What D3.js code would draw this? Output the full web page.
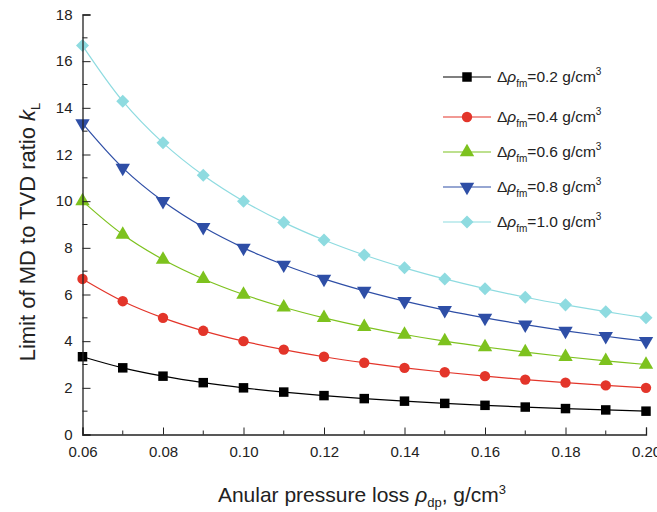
<!DOCTYPE html>
<html><head><meta charset="utf-8">
<script src="https://cdn.jsdelivr.net/npm/d3@7"></script>
<style>body{margin:0;background:#fff}svg{display:block}</style>
</head><body><svg id="c" width="657" height="512"></svg>
<script>
const pressureLoss = [0.06,0.07,0.08,0.09,0.10,0.11,0.12,0.13,0.14,0.15,0.16,0.17,0.18,0.19,0.20];
const seriesLabels = ["0.2","0.4","0.6","0.8","1.0"];
const k02 = [3.333,2.857,2.5,2.222,2.0,1.818,1.667,1.538,1.429,1.333,1.25,1.176,1.111,1.053,1.0];
const k04 = [6.667,5.714,5.0,4.444,4.0,3.636,3.333,3.077,2.857,2.667,2.5,2.353,2.222,2.105,2.0];
const k06 = [10.0,8.571,7.5,6.667,6.0,5.455,5.0,4.615,4.286,4.0,3.75,3.529,3.333,3.158,3.0];
const k08 = [13.333,11.429,10.0,8.889,8.0,7.273,6.667,6.154,5.714,5.333,5.0,4.706,4.444,4.211,4.0];
const k10 = [16.667,14.286,12.5,11.111,10.0,9.091,8.333,7.692,7.143,6.667,6.25,5.882,5.556,5.263,5.0];
const xTicks = [0.06,0.08,0.10,0.12,0.14,0.16,0.18,0.20];
const yTicks = [0,2,4,6,8,10,12,14,16,18];

const series = [
  {vals:k02, color:"#000000", sym:d3.symbolSquare, size:90, rot:0},
  {vals:k04, color:"#e3352a", sym:d3.symbolCircle, size:85, rot:0},
  {vals:k06, color:"#7dc21e", sym:d3.symbolTriangle, size:90, rot:0},
  {vals:k08, color:"#2e4ea6", sym:d3.symbolTriangle, size:90, rot:180},
  {vals:k10, color:"#8edbe0", sym:d3.symbolSquare, size:85, rot:45}
];
series.forEach((s,i)=>s.label=seriesLabels[i]);

const svg = d3.select("#c");
const L=82.5, R=646, T=14.5, B=434.5;
const x = d3.scaleLinear().domain([0.06,0.20]).range([L,R]);
const y = d3.scaleLinear().domain([0,18]).range([B,T]);
const font = "Liberation Sans, Arial, sans-serif";
const axisColor = "#222";

// lines
const line = d3.line().x((d,i)=>x(pressureLoss[i])).y(d=>y(d)).curve(d3.curveCatmullRom);
series.forEach(s=>{
  svg.append("path").attr("d",line(s.vals)).attr("fill","none").attr("stroke",s.color).attr("stroke-width",1.2);
});
series.forEach(s=>{
  svg.append("g").selectAll("path").data(s.vals).join("path")
    .attr("d",d3.symbol().type(s.sym).size(s.size))
    .attr("transform",(d,i)=>`translate(${x(pressureLoss[i])},${y(d)}) rotate(${s.rot})`)
    .attr("fill",s.color);
});

// axes
const xMinor = d3.range(0.07,0.20,0.02);
const yMinor = d3.range(1,18,2);
const gx = svg.append("g").attr("transform",`translate(0,${B})`);
gx.call(d3.axisBottom(x).tickValues(xTicks).tickSize(-7).tickPadding(12).tickFormat(d3.format(".2f")));
gx.append("g").selectAll("line").data(xMinor).join("line")
  .attr("x1",d=>x(d)).attr("x2",d=>x(d)).attr("y1",0).attr("y2",-4).attr("stroke",axisColor);
const gy = svg.append("g").attr("transform",`translate(${L},0)`);
gy.call(d3.axisLeft(y).tickValues(yTicks).tickSize(-8).tickPadding(10).tickFormat(d3.format("d")));
gy.append("g").selectAll("line").data(yMinor).join("line")
  .attr("y1",d=>y(d)).attr("y2",d=>y(d)).attr("x1",0).attr("x2",5).attr("stroke",axisColor);
[gx,gy].forEach(g=>{
  g.select(".domain").attr("stroke",axisColor).attr("stroke-width",1.3);
  g.selectAll(".tick line").attr("stroke",axisColor);
  g.selectAll("text").attr("font-family",font).attr("font-size",15).attr("fill","#222");
});

// axis labels
const xl = svg.append("text").attr("x",362).attr("y",502).attr("text-anchor","middle")
  .attr("font-family",font).attr("font-size",21).attr("fill","#222");
xl.append("tspan").text("Anular pressure loss ");
xl.append("tspan").attr("font-style","italic").text("ρ");
xl.append("tspan").attr("font-size",13).attr("dy",5).text("dp");
xl.append("tspan").attr("dy",-5).text(", g/cm");
xl.append("tspan").attr("font-size",13).attr("dy",-8).text("3");

const yl = svg.append("text").attr("transform",`translate(35,232) rotate(-90)`).attr("text-anchor","middle")
  .attr("font-family",font).attr("font-size",22).attr("fill","#222");
yl.append("tspan").text("Limit of MD to TVD ratio ");
yl.append("tspan").attr("font-style","italic").text("k");
yl.append("tspan").attr("font-size",13).attr("dy",5).text("L");

// legend
const legY = [77,117,152,187,222];
series.forEach((s,i)=>{
  const g = svg.append("g").attr("transform",`translate(0,${legY[i]})`);
  g.append("line").attr("x1",443).attr("x2",491).attr("y1",0).attr("y2",0).attr("stroke",s.color).attr("stroke-width",1.2);
  g.append("path").attr("d",d3.symbol().type(s.sym).size(s.size)).attr("transform",`translate(467,0) rotate(${s.rot})`).attr("fill",s.color);
  const t = g.append("text").attr("x",497).attr("y",5).attr("font-family",font).attr("font-size",15.5).attr("fill","#222");
  t.append("tspan").text("Δ");
  t.append("tspan").attr("font-style","italic").text("ρ");
  t.append("tspan").attr("font-size",10).attr("dy",5).text("fm");
  t.append("tspan").attr("dy",-5).text("="+s.label+" g/cm");
  t.append("tspan").attr("font-size",10).attr("dy",-7).text("3");
});
</script></body></html>
